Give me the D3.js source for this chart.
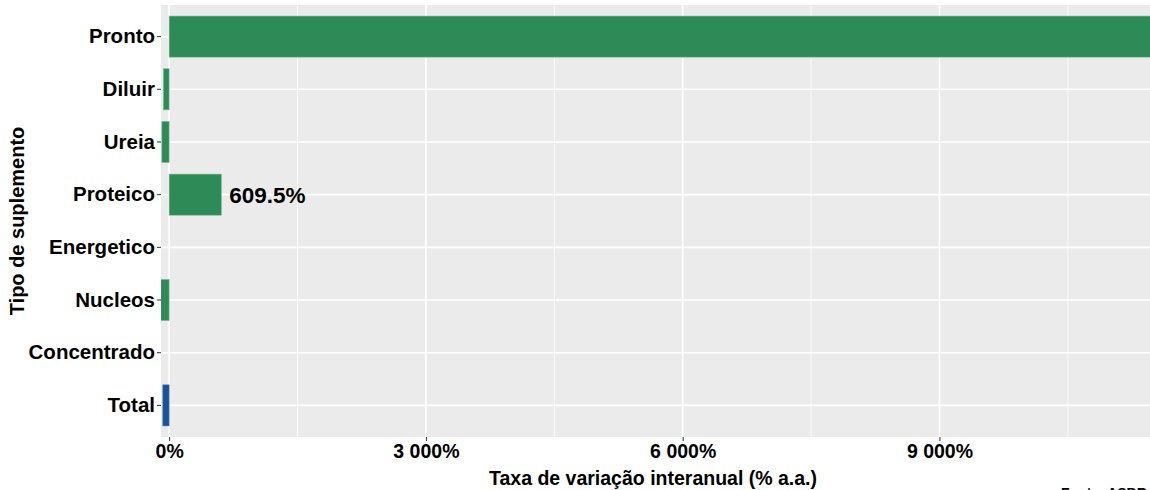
<!DOCTYPE html>
<html>
<head>
<meta charset="utf-8">
<script src="https://cdn.jsdelivr.net/npm/d3@7"></script>
<style>
  body { margin: 0; background: #fff; }
  svg text { font-family: "Liberation Sans", Arial, sans-serif; font-weight: bold; }
</style>
</head>
<body>
<div id="chart"></div>
<script>
// categories top to bottom
const categories = ["Pronto", "Diluir", "Ureia", "Proteico", "Energetico", "Nucleos", "Concentrado", "Total"];
// year-on-year change, % (Pronto runs off the right edge)
const values = [12500, -67, -85, 609.5, 0, -97, 0, -74];
const labelled = ["Proteico"];
const xTicks = [0, 3000, 6000, 9000];
const xMinor = [1500, 4500, 7500, 10500];

const width = 1150, height = 490;
const panel = { left: 161, top: 5, bottom: 437, right: 1162 };

const svg = d3.select("#chart").append("svg")
  .attr("width", width)
  .attr("height", height);

const x = d3.scaleLinear()
  .domain([-95, 11600])
  .range([panel.left, panel.right]);

const y = d3.scaleBand()
  .domain(categories)
  .range([panel.top, panel.bottom])
  .paddingInner(0.22)
  .paddingOuter(0.21);

const fmt = v => d3.format(",")(v).replace(/,/g, " ") + "%";

svg.append("clipPath").attr("id", "panel-clip")
  .append("rect")
  .attr("x", panel.left).attr("y", panel.top)
  .attr("width", panel.right - panel.left)
  .attr("height", panel.bottom - panel.top);

// panel background
svg.append("rect")
  .attr("x", panel.left).attr("y", panel.top)
  .attr("width", panel.right - panel.left)
  .attr("height", panel.bottom - panel.top)
  .attr("fill", "#ebebeb");

const grid = svg.append("g").attr("clip-path", "url(#panel-clip)");
// minor grid
grid.selectAll(".minor").data(xMinor).join("line")
  .attr("x1", d => x(d)).attr("x2", d => x(d))
  .attr("y1", panel.top).attr("y2", panel.bottom)
  .attr("stroke", "#fff").attr("stroke-width", 0.8);
// major grid
grid.selectAll(".majorx").data(xTicks).join("line")
  .attr("x1", d => x(d)).attr("x2", d => x(d))
  .attr("y1", panel.top).attr("y2", panel.bottom)
  .attr("stroke", "#fff").attr("stroke-width", 1.6);
grid.selectAll(".majory").data(categories).join("line")
  .attr("x1", panel.left).attr("x2", panel.right)
  .attr("y1", d => y(d) + y.bandwidth() / 2).attr("y2", d => y(d) + y.bandwidth() / 2)
  .attr("stroke", "#fff").attr("stroke-width", 1.6);

// bars
const bars = svg.append("g").attr("clip-path", "url(#panel-clip)");
bars.selectAll("rect").data(categories).join("rect")
  .attr("x", (d, i) => x(Math.min(0, values[i])))
  .attr("width", (d, i) => Math.abs(x(values[i]) - x(0)))
  .attr("y", d => y(d))
  .attr("height", y.bandwidth())
  .attr("fill", d => d === "Total" ? "#1a5296" : "#2e8b57")
  .attr("stroke", d => d === "Total" ? "#5f86b8" : "#7fb898")
  .attr("stroke-width", 0.6);

// value labels
svg.selectAll(".vlab").data(categories.filter(c => labelled.includes(c))).join("text")
  .attr("x", d => x(values[categories.indexOf(d)]) + 8)
  .attr("y", d => y(d) + y.bandwidth() / 2)
  .attr("dy", "0.36em")
  .attr("font-size", 22.5)
  .attr("fill", "#000")
  .text(d => values[categories.indexOf(d)].toFixed(1) + "%");

// y axis
const yAxis = svg.append("g")
  .attr("transform", `translate(${panel.left},0)`)
  .call(d3.axisLeft(y).tickSize(4).tickPadding(2));
yAxis.select(".domain").remove();
yAxis.selectAll("line").attr("stroke", "#333").attr("stroke-width", 1);
yAxis.selectAll("text").attr("font-size", 20.5).attr("fill", "#000")
  .attr("font-family", null);

// x axis
const xAxis = svg.append("g")
  .attr("transform", `translate(0,${panel.bottom})`)
  .call(d3.axisBottom(x).tickValues(xTicks).tickFormat(fmt).tickSize(4).tickPadding(3));
xAxis.select(".domain").remove();
xAxis.selectAll("line").attr("stroke", "#333").attr("stroke-width", 1);
xAxis.selectAll("text").attr("font-size", 19.5).attr("fill", "#000")
  .attr("font-family", null);

// axis titles
svg.append("text")
  .attr("x", 653).attr("y", 485)
  .attr("text-anchor", "middle")
  .attr("font-size", 19.5)
  .text("Taxa de variação interanual (% a.a.)");

svg.append("text")
  .attr("transform", `translate(24,${(panel.top + panel.bottom) / 2}) rotate(-90)`)
  .attr("text-anchor", "middle")
  .attr("font-size", 20)
  .text("Tipo de suplemento");

// source caption, cut off by the bottom edge as in the original
svg.append("text")
  .attr("x", 1061).attr("y", 498)
  .attr("font-size", 14)
  .text("Fonte: ASBRAM");
</script>
</body>
</html>
